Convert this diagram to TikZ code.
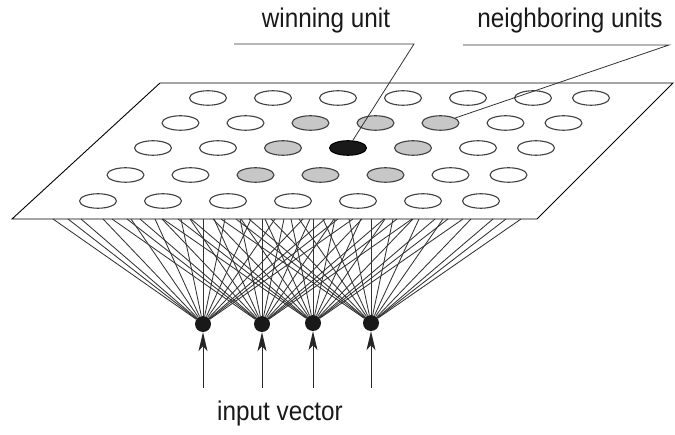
\documentclass[tikz,border=0pt]{standalone}
\usepackage{fontspec}
\setmainfont[FakeStretch=0.9]{Liberation Sans}
\usetikzlibrary{shapes.geometric,arrows.meta}
\begin{document}
\begin{tikzpicture}[x=1pt,y=-1pt,
  unit/.style={ellipse,draw=black!75,line width=1.1pt,minimum width=37pt,minimum height=14.5pt,inner sep=0pt},
  inp/.style={circle,fill=black!90,minimum size=16pt,inner sep=0pt},
  conn/.style={draw=black!80,line width=0.85pt},
  arr/.style={draw=black!85,line width=1pt,-{Stealth[length=19pt,width=9pt,inset=5pt]}},
  lbl/.style={font=\fontsize{27}{30}\selectfont,inner sep=0pt,anchor=base,text=black!90},
  leader/.style={draw=black!80,line width=0.8pt},
  plane/.style={draw=black,line width=0.9pt}]
\useasboundingbox (0,0) rectangle (675,435);
% plane
\draw[plane] (12,219) -- (537,219) -- (673,83) -- (160,83) -- cycle;
% units
\foreach \r/\y in {1/98,2/123,3/148,4/175,5/201} {
  \foreach \c in {1,...,7} {
    \pgfmathsetmacro\xx{208-27.5*(\r-1)+65*(\c-1)-7*(\c==7)}
    \def\fc{white}\def\dc{black!75}
    \ifnum\r>1 \ifnum\r<5 \ifnum\c>2 \ifnum\c<6 \def\fc{black!22}\fi\fi\fi\fi
    \ifnum\r=3 \ifnum\c=4 \def\fc{black!90}\def\dc{black}\fi\fi
    \node[unit,fill=\fc,draw=\dc] (u-\r-\c) at (\xx,\y) {};
  }
}
% input nodes
\node[inp] (d1) at (203,324) {};
\node[inp] (d2) at (262,324) {};
\node[inp] (d3) at (313,323) {};
\node[inp] (d4) at (371,323) {};
% connections
\foreach \i/\x in {1/203,2/262,3/313,4/371} {
  \foreach \o [count=\k] in {-150,-135,-122,-100,-72,-48,-22,0,22,48,72,100,122,135,150} {
    \coordinate (t-\i-\k) at (\x+\o,219);
    \draw[conn] (d\i) -- (t-\i-\k);
  }
  \coordinate (a\i) at (\x,388);
  \draw[arr] (a\i) -- (d\i);
}
% labels
\node[lbl] (lw) at (326,28) {winning unit};
\node[lbl] (ln) at (570,28) {neighboring units};
\node[lbl] (lin) at (280,421) {input vector};
\coordinate (w1) at (234,44);
\coordinate (w2) at (414,44);
\draw[leader] (w1) -- (w2) -- (u-3-4);
\coordinate (n1) at (463,45);
\coordinate (n2) at (669,45);
\draw[leader] (n1) -- (n2) -- (u-2-5);
\end{tikzpicture}
\end{document}
